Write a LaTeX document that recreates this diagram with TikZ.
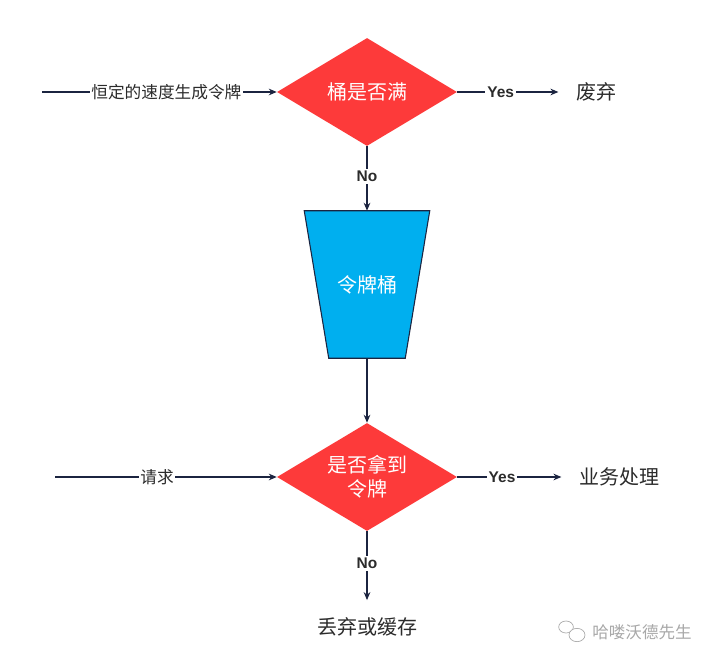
\documentclass[tikz,border=0pt]{standalone}
\usepackage{fontspec}
\setmainfont{Liberation Sans}
\newfontfamily\cjk{Noto Sans CJK SC}
\usepackage{tikz}
\usetikzlibrary{arrows.meta,positioning,shapes.geometric}

\definecolor{chkred}{HTML}{FD3A3A}
\definecolor{bktblue}{HTML}{00AFEF}
\definecolor{linenavy}{HTML}{1B2440}
\definecolor{txtgray}{HTML}{2B2B2B}
\definecolor{wmgray}{HTML}{A8A8A8}

\begin{document}
\begin{tikzpicture}[
  x=0.75pt, y=0.75pt,
  check/.style={diamond, fill=chkred, inner sep=0pt, aspect=1.67,
                minimum width=135pt, minimum height=81pt, align=center,
                text=white, font=\cjk\fontsize{15}{18}\selectfont},
  bucket/.style={rectangle, inner sep=0pt,
                 minimum width=93.75pt, minimum height=110.25pt},
  bucketfill/.style={draw=linenavy, fill=bktblue, line width=0.8pt},
  inlbl/.style={text=white, font=\cjk\fontsize{15}{18}\selectfont},
  result/.style={inner xsep=13pt, inner ysep=13pt, text=txtgray,
                 font=\cjk\fontsize{15}{18}\selectfont},
  lbl/.style={fill=white, inner sep=1pt, text=txtgray,
              font=\cjk\fontsize{12.5}{14}\selectfont},
  yn/.style={fill=white, inner sep=1.5pt, text=txtgray,
             font=\bfseries\fontsize{11.6}{13}\selectfont},
  arr/.style={-{Stealth[length=6pt,width=5pt,inset=2pt]}, line width=0.9pt,
              draw=linenavy},
]
  \useasboundingbox (0,0) rectangle (716,664);

  % Bucket full check
  \coordinate (gen) at (42,572);
  \node[check] (full) at (367,572) {桶是否满};
  \node[result] (drop) at (596,572) {废弃};

  % Token bucket
  \node[bucket] (tokens) at (367,379.5) {};
  \filldraw[bucketfill] (tokens.north west) -- (tokens.north east)
    -- ([xshift=-18.375pt]tokens.south east)
    -- ([xshift=18.375pt]tokens.south west) -- cycle;
  \node[inlbl] (tokenslbl) at (tokens) {令牌桶};

  % Token check
  \coordinate (req) at (55,187);
  \node[check] (got) at (367,187) {是否拿到\\令牌};
  \node[result] (serve) at (619,187) {业务处理};
  \node[result] (cache) at (367,37) {丢弃或缓存};

  % Arrows
  \draw[arr] (gen) -- node[lbl, pos=0.53] {恒定的速度生成令牌} (full);
  \draw[arr] (full) -- node[yn, pos=0.43] {Yes} (drop);
  \draw[arr] (full) -- node[yn, pos=0.47] {No} (tokens);
  \draw[arr] (tokens) -- (got);
  \draw[arr] (req) -- node[lbl, pos=0.46] {请求} (got);
  \draw[arr] (got) -- node[yn, pos=0.43] {Yes} (serve);
  \draw[arr] (got) -- node[yn, pos=0.47] {No} (cache);

  % Watermark
  \node[draw=wmgray, line width=0.5pt, ellipse, minimum width=11pt,
        minimum height=9pt, inner sep=0pt] (wxa) at (566,37) {};
  \node[draw=wmgray, line width=0.5pt, ellipse, fill=white, minimum width=12pt,
        minimum height=10pt, inner sep=0pt] (wxb) at (577,29) {};
  \node[text=wmgray, font=\cjk\fontsize{12.4}{14}\selectfont] (mark) at (642,32)
    {哈喽沃德先生};
\end{tikzpicture}
\end{document}
